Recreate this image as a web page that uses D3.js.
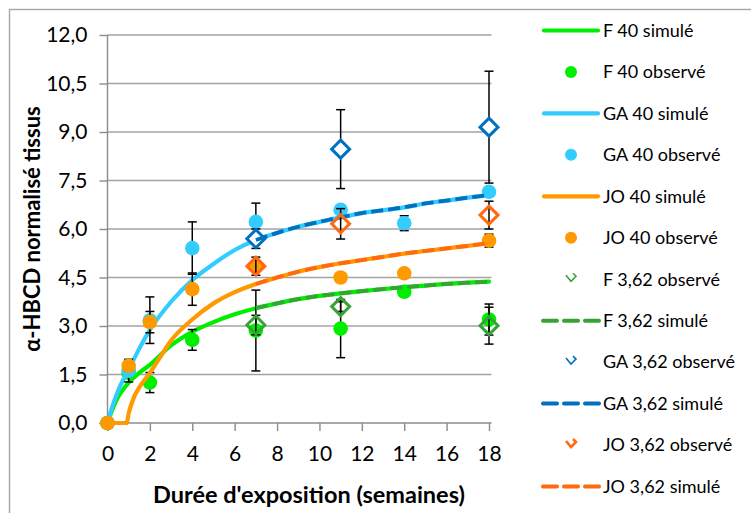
<!DOCTYPE html>
<html><head><meta charset="utf-8">
<script src="https://cdn.jsdelivr.net/npm/d3@7"></script>
<style>
body{margin:0;background:#fff;}
svg{display:block;font-family:Lato,"Open Sans",sans-serif;}
</style></head>
<body>
<svg id="c" width="751" height="513"></svg>
<script>
// ---- data ----
const xTicks = [0,2,4,6,8,10,12,14,16,18];
const yTicks = [0,1.5,3,4.5,6,7.5,9,10.5,12];

// simulated curves
const f40SimX  = [0,0.25,0.5,1,1.5,2,3,4,5,6,7,8,9,10,11,12,13,14,15,16,17,18];
const f40SimY  = [0,0.45,0.8,1.25,1.55,1.8,2.4,2.82,3.12,3.36,3.55,3.7,3.83,3.93,4.01,4.08,4.14,4.2,4.25,4.3,4.34,4.37];
const ga40SimX = [0,0.25,0.5,1,1.5,2,3,4,5,6,7,8,9,10,11,12,13,14,15,16,17,18];
const ga40SimY = [0,0.55,1.0,1.65,2.3,2.88,3.75,4.42,4.92,5.35,5.66,5.88,6.07,6.22,6.36,6.49,6.58,6.67,6.79,6.88,6.97,7.05];
const jo40SimX = [0,0.9,1,1.25,1.5,2,2.5,3,4,5,6,7,8,9,10,11,12,13,14,15,16,17,18];
const jo40SimY = [0,0,0.3,0.8,1.1,1.55,2.05,2.55,3.2,3.7,4.05,4.3,4.5,4.68,4.82,4.94,5.04,5.14,5.24,5.32,5.4,5.48,5.56];
const f362SimX  = [7,8,9,10,11,12,13,14,15,16,17,18];
const f362SimY  = [3.55,3.7,3.83,3.93,4.01,4.08,4.14,4.2,4.25,4.3,4.34,4.37];
const ga362SimX = [7,8,9,10,11,12,13,14,15,16,17,18];
const ga362SimY = [5.66,5.88,6.07,6.22,6.36,6.49,6.58,6.67,6.79,6.88,6.97,7.05];
const jo362SimX = [7,8,9,10,11,12,13,14,15,16,17,18];
const jo362SimY = [4.3,4.5,4.68,4.82,4.94,5.04,5.14,5.24,5.32,5.4,5.48,5.56];

// observed points with error (±)
const obsX40   = [0,1,2,4,7,11,14,18];
const f40ObsY  = [0,1.55,1.25,2.57,2.86,2.92,4.06,3.2];
const f40ObsE  = [0,0.1,0.31,0.32,1.25,0.9,0,0.48];
const ga40ObsY = [0,1.62,3.18,5.41,6.22,6.59,6.18,7.15];
const ga40ObsE = [0,0.35,0.72,0.81,0.58,0,0.23,0];
const jo40ObsY = [0,1.77,3.12,4.14,4.85,4.5,4.63,5.64];
const jo40ObsE = [0,0.15,0.33,0.5,0,0,0,0.2];
const obsX362   = [7,11,18];
const f362ObsY  = [3.03,3.6,3.01];
const f362ObsE  = [0.3,0.15,0.57];
const ga362ObsY = [5.7,8.47,9.15];
const ga362ObsE = [0.3,1.22,1.73];
const jo362ObsY = [4.85,6.16,6.43];
const jo362ObsE = [0.28,0.47,0.43];

const legendLabels = ["F 40 simulé","F 40 observé","GA 40 simulé","GA 40 observé","JO 40 simulé","JO 40 observé",
  "F 3,62 observé","F 3,62 simulé","GA 3,62 observé","GA 3,62 simulé","JO 3,62 observé","JO 3,62 simulé"];

// ---- styles ----
const C = {f40:"#00ee00", ga40:"#33ccff", jo40:"#ff9900", f362:"#36a336", ga362:"#0070c0", jo362:"#ff6a10"};

const zip = (xs,ys,es)=>xs.map((x,i)=>({x, y:ys[i], e: es?es[i]:0}));
const series = [
  {type:"line", label:legendLabels[0], color:C.f40, data:zip(f40SimX,f40SimY)},
  {type:"dot", label:legendLabels[1], color:C.f40, data:zip(obsX40,f40ObsY,f40ObsE)},
  {type:"line", label:legendLabels[2], color:C.ga40, data:zip(ga40SimX,ga40SimY)},
  {type:"dot", label:legendLabels[3], color:C.ga40, data:zip(obsX40,ga40ObsY,ga40ObsE)},
  {type:"line", label:legendLabels[4], color:C.jo40, data:zip(jo40SimX,jo40SimY)},
  {type:"dot", label:legendLabels[5], color:C.jo40, data:zip(obsX40,jo40ObsY,jo40ObsE)},
  {type:"diamond", label:legendLabels[6], color:C.f362, fill:"none", data:zip(obsX362,f362ObsY,f362ObsE)},
  {type:"dash", label:legendLabels[7], color:C.f362, data:zip(f362SimX,f362SimY)},
  {type:"diamond", label:legendLabels[8], color:C.ga362, fill:"#fff", data:zip(obsX362,ga362ObsY,ga362ObsE)},
  {type:"dash", label:legendLabels[9], color:C.ga362, data:zip(ga362SimX,ga362SimY)},
  {type:"diamond", label:legendLabels[10], color:C.jo362, fill:"none", data:zip(obsX362,jo362ObsY,jo362ObsE)},
  {type:"dash", label:legendLabels[11], color:C.jo362, data:zip(jo362SimX,jo362SimY)}
];

const svg = d3.select("#c");
const x = d3.scaleLinear().domain([0,18]).range([107.5,489]);
const y = d3.scaleLinear().domain([0,12]).range([423,35]);
const plotRight = 491.5;

// chart border
svg.append("rect").attr("x",9.5).attr("y",9.5).attr("width",900).attr("height",700)
  .attr("fill","none").attr("stroke","#a6a6a6").attr("stroke-width",1.4);

// gridlines
svg.append("g").selectAll("line").data(yTicks.filter(d=>d>0)).join("line")
  .attr("x1",x(0)).attr("x2",plotRight).attr("y1",d=>y(d)).attr("y2",d=>y(d))
  .attr("stroke","#a3a3a3").attr("stroke-width",1.6);

// axes
const yAxis = svg.append("g").attr("transform",`translate(${x(0)},0)`)
  .call(d3.axisLeft(y).tickValues(yTicks).tickFormat(d=>d.toFixed(1).replace(".",",")).tickSize(8).tickPadding(12));
const xAxis = svg.append("g").attr("transform",`translate(0,${y(0)})`)
  .call(d3.axisBottom(x).tickValues(xTicks).tickFormat(d=>d).tickSize(8).tickPadding(15));
[yAxis,xAxis].forEach(g=>{
  g.select(".domain").remove();
  g.selectAll(".tick line").attr("stroke","#8c8c8c").attr("stroke-width",1.4);
  g.selectAll("text").attr("font-size",21).attr("fill","#000").attr("font-family","Lato");
});
// axis lines
svg.append("line").attr("x1",x(0)).attr("x2",x(0)).attr("y1",y(12)).attr("y2",y(0)+8)
  .attr("stroke","#8c8c8c").attr("stroke-width",1.4);
svg.append("line").attr("x1",x(0)-8).attr("x2",plotRight).attr("y1",y(0)).attr("y2",y(0))
  .attr("stroke","#8c8c8c").attr("stroke-width",1.4);

// axis titles
svg.append("text").attr("x",309).attr("y",503).attr("text-anchor","middle")
  .attr("font-weight","bold").attr("font-size",23.5).text("Durée d'exposition (semaines)");
svg.append("text").attr("transform","translate(40,229) rotate(-90)").attr("text-anchor","middle")
  .attr("font-weight","bold").attr("font-size",22).text("α-HBCD normalisé tissus");

const plot = svg.append("g");
const lineGen = d3.line().x(d=>x(d.x)).y(d=>y(d.y)).curve(d3.curveMonotoneX);
const diamondPath = r=>`M0,${-r}L${r},0L0,${r}L${-r},0Z`;

function drawErr(g,s){
  const eb = g.append("g").attr("stroke","#000").attr("stroke-width",1.5);
  s.data.filter(d=>d.e>0).forEach(d=>{
    const cx=x(d.x), y1=y(d.y+d.e), y2=y(d.y-d.e);
    eb.append("line").attr("x1",cx).attr("x2",cx).attr("y1",y1).attr("y2",y2);
    eb.append("line").attr("x1",cx-4.5).attr("x2",cx+4.5).attr("y1",y1).attr("y2",y1);
    eb.append("line").attr("x1",cx-4.5).attr("x2",cx+4.5).attr("y1",y2).attr("y2",y2);
  });
}

series.forEach(s=>{
  const g = plot.append("g");
  if(s.type==="line"){
    g.append("path").attr("d",lineGen(s.data)).attr("fill","none").attr("stroke",s.color)
      .attr("stroke-width",4.2).attr("stroke-linejoin","round").attr("stroke-linecap","round");
  } else if(s.type==="dash"){
    g.append("path").attr("d",lineGen(s.data)).attr("fill","none").attr("stroke",s.color)
      .attr("stroke-width",3.8).attr("stroke-dasharray","12 5");
  } else if(s.type==="dot"){
    drawErr(g,s);
    g.selectAll("circle").data(s.data).join("circle").attr("cx",d=>x(d.x)).attr("cy",d=>y(d.y))
      .attr("r",7.3).attr("fill",s.color);
  } else {
    drawErr(g,s);
    g.selectAll("path.m").data(s.data).join("path").attr("class","m")
      .attr("transform",d=>`translate(${x(d.x)},${y(d.y)})`).attr("d",diamondPath(9))
      .attr("fill",s.fill).attr("stroke",s.color).attr("stroke-width",3);
  }
});

// legend
const leg = svg.append("g");
series.forEach((s,i)=>{
  const ly = 30.5 + i*41.45;
  const g = leg.append("g").attr("transform",`translate(0,${ly})`);
  if(s.type==="line"){
    g.append("line").attr("x1",544).attr("x2",598).attr("stroke",s.color).attr("stroke-width",4.2).attr("stroke-linecap","round");
  } else if(s.type==="dash"){
    g.append("line").attr("x1",543).attr("x2",599).attr("stroke",s.color).attr("stroke-width",4)
      .attr("stroke-dasharray","14 7").attr("stroke-linecap","round");
  } else if(s.type==="dot"){
    g.append("circle").attr("cx",571).attr("cy",0).attr("r",6).attr("fill",s.color);
  } else {
    g.append("path").attr("d","M566,-4L571,2L576,-3L573,-6").attr("fill","none")
      .attr("stroke",s.color).attr("stroke-width",s.color===C.jo362?2.6:1.6);
  }
  g.append("text").attr("x",603).attr("y",0).attr("dy","0.35em").attr("font-size",18).text(s.label);
});
</script>
</body></html>
